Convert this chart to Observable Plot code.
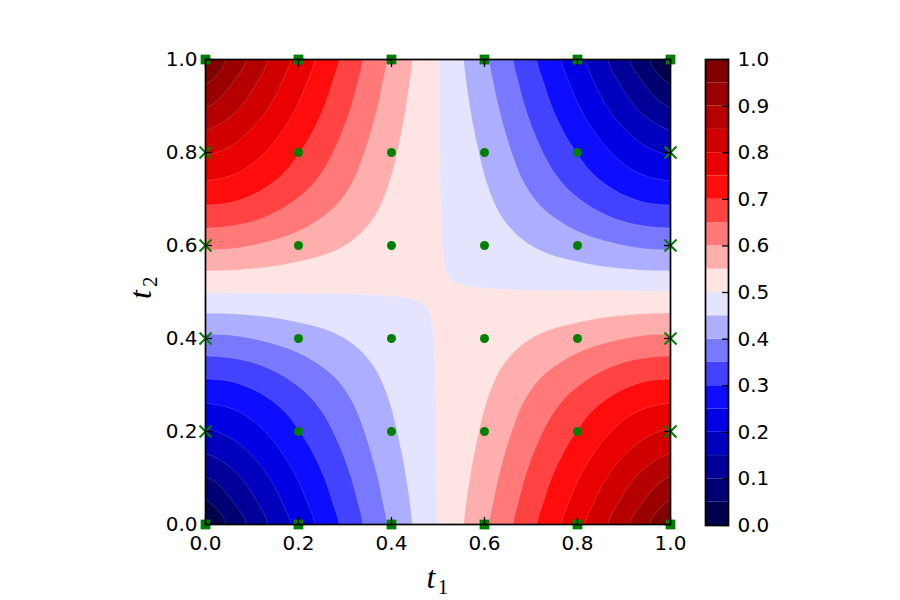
<!DOCTYPE html>
<html><head><meta charset="utf-8">
<script src="https://cdn.jsdelivr.net/npm/d3@7"></script>
<script src="https://cdn.jsdelivr.net/npm/@observablehq/plot@0.6"></script>
<style>
body{margin:0;background:#fff;}
#wrap{position:relative;width:900px;height:600px;background:#fff;}
#main{position:absolute;left:0;top:0;}
#cbar{position:absolute;left:705px;top:0;}
</style></head>
<body><div id="wrap"><div id="main"></div><div id="cbar"></div></div>
<script>
// grid coordinates of the field
const t1Grid = [0,0.05,0.1,0.15,0.2,0.25,0.3,0.35,0.4,0.45,0.5,0.55,0.6,0.65,0.7,0.75,0.8,0.85,0.9,0.95,1];
const t2Grid = [0,0.05,0.1,0.15,0.2,0.25,0.3,0.35,0.4,0.45,0.5,0.55,0.6,0.65,0.7,0.75,0.8,0.85,0.9,0.95,1];
// field values; row r is t2Grid[r], column c is t1Grid[c]
const z = [
[0,0.056,0.113,0.166,0.216,0.264,0.312,0.361,0.409,0.455,0.502,0.545,0.591,0.639,0.688,0.736,0.784,0.834,0.887,0.944,1],
[0.047,0.092,0.14,0.187,0.234,0.279,0.325,0.371,0.417,0.459,0.502,0.541,0.583,0.629,0.675,0.721,0.766,0.813,0.86,0.908,0.953],
[0.097,0.129,0.169,0.21,0.253,0.295,0.338,0.382,0.425,0.464,0.502,0.536,0.575,0.618,0.662,0.705,0.747,0.79,0.831,0.871,0.903],
[0.148,0.17,0.201,0.237,0.275,0.313,0.353,0.394,0.434,0.468,0.502,0.532,0.566,0.606,0.647,0.687,0.725,0.763,0.799,0.83,0.852],
[0.195,0.209,0.234,0.264,0.298,0.332,0.369,0.406,0.442,0.473,0.502,0.527,0.558,0.594,0.631,0.668,0.702,0.736,0.766,0.791,0.805],
[0.24,0.249,0.267,0.293,0.322,0.353,0.385,0.418,0.45,0.477,0.502,0.523,0.55,0.582,0.615,0.647,0.678,0.707,0.733,0.751,0.76],
[0.287,0.292,0.307,0.328,0.352,0.377,0.404,0.432,0.459,0.481,0.502,0.519,0.541,0.568,0.596,0.623,0.648,0.672,0.693,0.708,0.713],
[0.337,0.341,0.351,0.367,0.386,0.406,0.426,0.448,0.468,0.485,0.502,0.515,0.532,0.552,0.574,0.594,0.614,0.633,0.649,0.659,0.663],
[0.39,0.392,0.4,0.411,0.423,0.436,0.45,0.465,0.479,0.49,0.502,0.51,0.521,0.535,0.55,0.564,0.577,0.589,0.6,0.608,0.61],
[0.445,0.446,0.45,0.455,0.462,0.468,0.475,0.482,0.489,0.495,0.502,0.505,0.511,0.518,0.525,0.532,0.538,0.545,0.55,0.554,0.555],
[0.502,0.502,0.502,0.502,0.502,0.502,0.502,0.502,0.502,0.502,0.502,0.502,0.502,0.502,0.502,0.502,0.502,0.502,0.502,0.502,0.502],
[0.555,0.554,0.55,0.545,0.538,0.532,0.525,0.518,0.511,0.505,0.502,0.495,0.489,0.482,0.475,0.468,0.462,0.455,0.45,0.446,0.445],
[0.61,0.608,0.6,0.589,0.577,0.564,0.55,0.535,0.521,0.51,0.502,0.49,0.479,0.465,0.45,0.436,0.423,0.411,0.4,0.392,0.39],
[0.663,0.659,0.649,0.633,0.614,0.594,0.574,0.552,0.532,0.515,0.502,0.485,0.468,0.448,0.426,0.406,0.386,0.367,0.351,0.341,0.337],
[0.713,0.708,0.693,0.672,0.648,0.623,0.596,0.568,0.541,0.519,0.502,0.481,0.459,0.432,0.404,0.377,0.352,0.328,0.307,0.292,0.287],
[0.76,0.751,0.733,0.707,0.678,0.647,0.615,0.582,0.55,0.523,0.502,0.477,0.45,0.418,0.385,0.353,0.322,0.293,0.267,0.249,0.24],
[0.805,0.791,0.766,0.736,0.702,0.668,0.631,0.594,0.558,0.527,0.502,0.473,0.442,0.406,0.369,0.332,0.298,0.264,0.234,0.209,0.195],
[0.852,0.83,0.799,0.763,0.725,0.687,0.647,0.606,0.566,0.532,0.502,0.468,0.434,0.394,0.353,0.313,0.275,0.237,0.201,0.17,0.148],
[0.903,0.871,0.831,0.79,0.747,0.705,0.662,0.618,0.575,0.536,0.502,0.464,0.425,0.382,0.338,0.295,0.253,0.21,0.169,0.129,0.097],
[0.953,0.908,0.86,0.813,0.766,0.721,0.675,0.629,0.583,0.541,0.502,0.459,0.417,0.371,0.325,0.279,0.234,0.187,0.14,0.092,0.047],
[1,0.944,0.887,0.834,0.784,0.736,0.688,0.639,0.591,0.545,0.502,0.455,0.409,0.361,0.312,0.264,0.216,0.166,0.113,0.056,0]
];
// sample locations (markers)
const sampleT = [0, 0.2, 0.4, 0.6, 0.8, 1.0];
// ticks
const axisTicks = [0, 0.2, 0.4, 0.6, 0.8, 1.0];
const cbarTicks = [0, 0.1, 0.2, 0.3, 0.4, 0.5, 0.6, 0.7, 0.8, 0.9, 1.0];
// contour levels (band edges)
const levels = [0,0.05,0.1,0.15,0.2,0.25,0.3,0.35,0.4,0.45,0.5,0.55,0.6,0.65,0.7,0.75,0.8,0.85,0.9,0.95,1];
// band colours (seismic)
const bandColors = ["#00004c","#000072","#000098","#0000bd","#0000e3","#0d0dff","#4343ff","#7979ff","#aeaeff","#e4e4ff",
                    "#ffe4e4","#ffaeae","#ff7979","#ff4343","#ff0d0d","#eb0000","#d00000","#b50000","#9a0000","#800000"];

const pts = [];
t2Grid.forEach((t2, r) => t1Grid.forEach((t1, c) => pts.push({t1, t2, f: z[r][c]})));

const interior = [], sides = [], edges = [];
for (const a of sampleT) for (const b of sampleT) {
  const inner1 = a > 0 && a < 1, inner2 = b > 0 && b < 1;
  if (inner1 && inner2) interior.push({t1: a, t2: b});
  else if (inner2) sides.push({t1: a, t2: b});
  else edges.push({t1: a, t2: b});
}

// smooth (Catmull-Rom) resampling of the gridded samples onto the raster
function bicubic(index, w, h, X, Y, V) {
  const xs = Array.from(new Set(Array.from(index, i => X[i]))).sort((a, b) => a - b);
  const ys = Array.from(new Set(Array.from(index, i => Y[i]))).sort((a, b) => a - b);
  const nx = xs.length, ny = ys.length;
  const G = new Float64Array(nx * ny);
  const xi = new Map(xs.map((v, i) => [v, i])), yi = new Map(ys.map((v, i) => [v, i]));
  for (const i of index) G[yi.get(Y[i]) * nx + xi.get(X[i])] = V[i];
  const cl = (v, n) => v < 0 ? 0 : v > n - 1 ? n - 1 : v;
  const wts = (t) => {
    const t2 = t * t, t3 = t2 * t;
    return [(-t3 + 2 * t2 - t) / 2, (3 * t3 - 5 * t2 + 2) / 2, (-3 * t3 + 4 * t2 + t) / 2, (t3 - t2) / 2];
  };
  const out = new Float64Array(w * h);
  const x0 = xs[0], xr = xs[nx - 1] - xs[0], y0 = ys[0], yr = ys[ny - 1] - ys[0];
  for (let j = 0; j < h; ++j) {
    let gy = ((j + 0.5) - y0) / yr * (ny - 1);
    gy = Math.max(0, Math.min(ny - 1, gy));
    const iy = Math.min(ny - 2, Math.floor(gy));
    const wy = wts(gy - iy);
    for (let i = 0; i < w; ++i) {
      let gx = ((i + 0.5) - x0) / xr * (nx - 1);
      gx = Math.max(0, Math.min(nx - 1, gx));
      const ix = Math.min(nx - 2, Math.floor(gx));
      const wx = wts(gx - ix);
      let s = 0;
      for (let m = 0; m < 4; ++m) {
        const row = cl(iy - 1 + m, ny) * nx;
        let rs = 0;
        for (let n = 0; n < 4; ++n) rs += wx[n] * G[row + cl(ix - 1 + n, nx)];
        s += wy[m] * rs;
      }
      out[j * w + i] = s;
    }
  }
  return out;
}

const colorScale = {type: "threshold", domain: levels.slice(1, -1), range: bandColors};
const baseStyle = {fontFamily: "DejaVu Sans", fontSize: "20px", color: "black", background: "transparent", overflow: "visible"};
const fmt = d3.format(".1f");
const serif = "Liberation Serif, DejaVu Serif, serif";

const main = Plot.plot({
  width: 900, height: 600,
  marginLeft: 205, marginRight: 230, marginTop: 59, marginBottom: 76,
  x: {domain: [0, 1], label: null},
  y: {domain: [0, 1], label: null},
  color: colorScale,
  style: baseStyle,
  marks: [
    Plot.contour(pts, {x: "t1", y: "t2", fill: "f", thresholds: levels.slice(0, -1),
      interpolate: bicubic, x1: 0, x2: 1, y1: 0, y2: 1, pixelSize: 1, blur: 0,
      stroke: "white", strokeOpacity: 0.25, strokeWidth: 0.6, clip: true}),
    Plot.dot(interior, {x: "t1", y: "t2", r: 4.5, fill: "green"}),
    Plot.dot(sides, {x: "t1", y: "t2", symbol: "times", r: 5.5, stroke: "green", strokeWidth: 2}),
    Plot.dot(edges, {x: "t1", y: "t2", symbol: "square", r: 5.5, fill: "green"}),
    Plot.frame({stroke: "black", strokeWidth: 1.7}),
    Plot.axisX({anchor: "bottom", ticks: axisTicks, tickFormat: fmt, tickSize: -7, tickPadding: 18, label: null, strokeWidth: 1.3}),
    Plot.axisX({anchor: "top", ticks: axisTicks, tickFormat: () => "", tickSize: -7, label: null, strokeWidth: 1.3}),
    Plot.axisY({anchor: "left", ticks: axisTicks, tickFormat: fmt, tickSize: -7, tickPadding: 15, label: null, strokeWidth: 1.3}),
    Plot.axisY({anchor: "right", ticks: axisTicks, tickFormat: () => "", tickSize: -7, label: null, strokeWidth: 1.3}),
    Plot.text(["t"], {text: d => d, frameAnchor: "bottom", dx: -7, dy: 63, lineAnchor: "bottom",
      fontFamily: serif, fontStyle: "italic", fontSize: 32, fill: "black"}),
    Plot.text(["1"], {text: d => d, frameAnchor: "bottom", dx: 5, dy: 69, lineAnchor: "bottom",
      fontFamily: serif, fontSize: 21, fill: "black"}),
    Plot.text(["t"], {text: d => d, frameAnchor: "left", rotate: -90, dx: -55, dy: 7, lineAnchor: "bottom",
      fontFamily: serif, fontStyle: "italic", fontSize: 32, fill: "black"}),
    Plot.text(["2"], {text: d => d, frameAnchor: "left", rotate: -90, dx: -49, dy: -5, lineAnchor: "bottom",
      fontFamily: serif, fontSize: 21, fill: "black"})
  ]
});
document.getElementById("main").appendChild(main);

const bands = levels.slice(0, -1).map((lo, i) => ({lo, hi: levels[i + 1]}));
const cbar = Plot.plot({
  width: 195, height: 600,
  marginLeft: 0, marginRight: 172, marginTop: 59, marginBottom: 75,
  y: {domain: [0, 1], label: null},
  color: colorScale,
  style: baseStyle,
  marks: [
    Plot.rect(bands, {y1: "lo", y2: "hi", fill: "lo"}),
    Plot.frame({stroke: "black", strokeWidth: 1.7}),
    Plot.axisY({anchor: "right", ticks: cbarTicks, tickFormat: fmt, tickSize: -7, tickPadding: 16, label: null, strokeWidth: 1.3})
  ]
});
document.getElementById("cbar").appendChild(cbar);
</script>
</body></html>
